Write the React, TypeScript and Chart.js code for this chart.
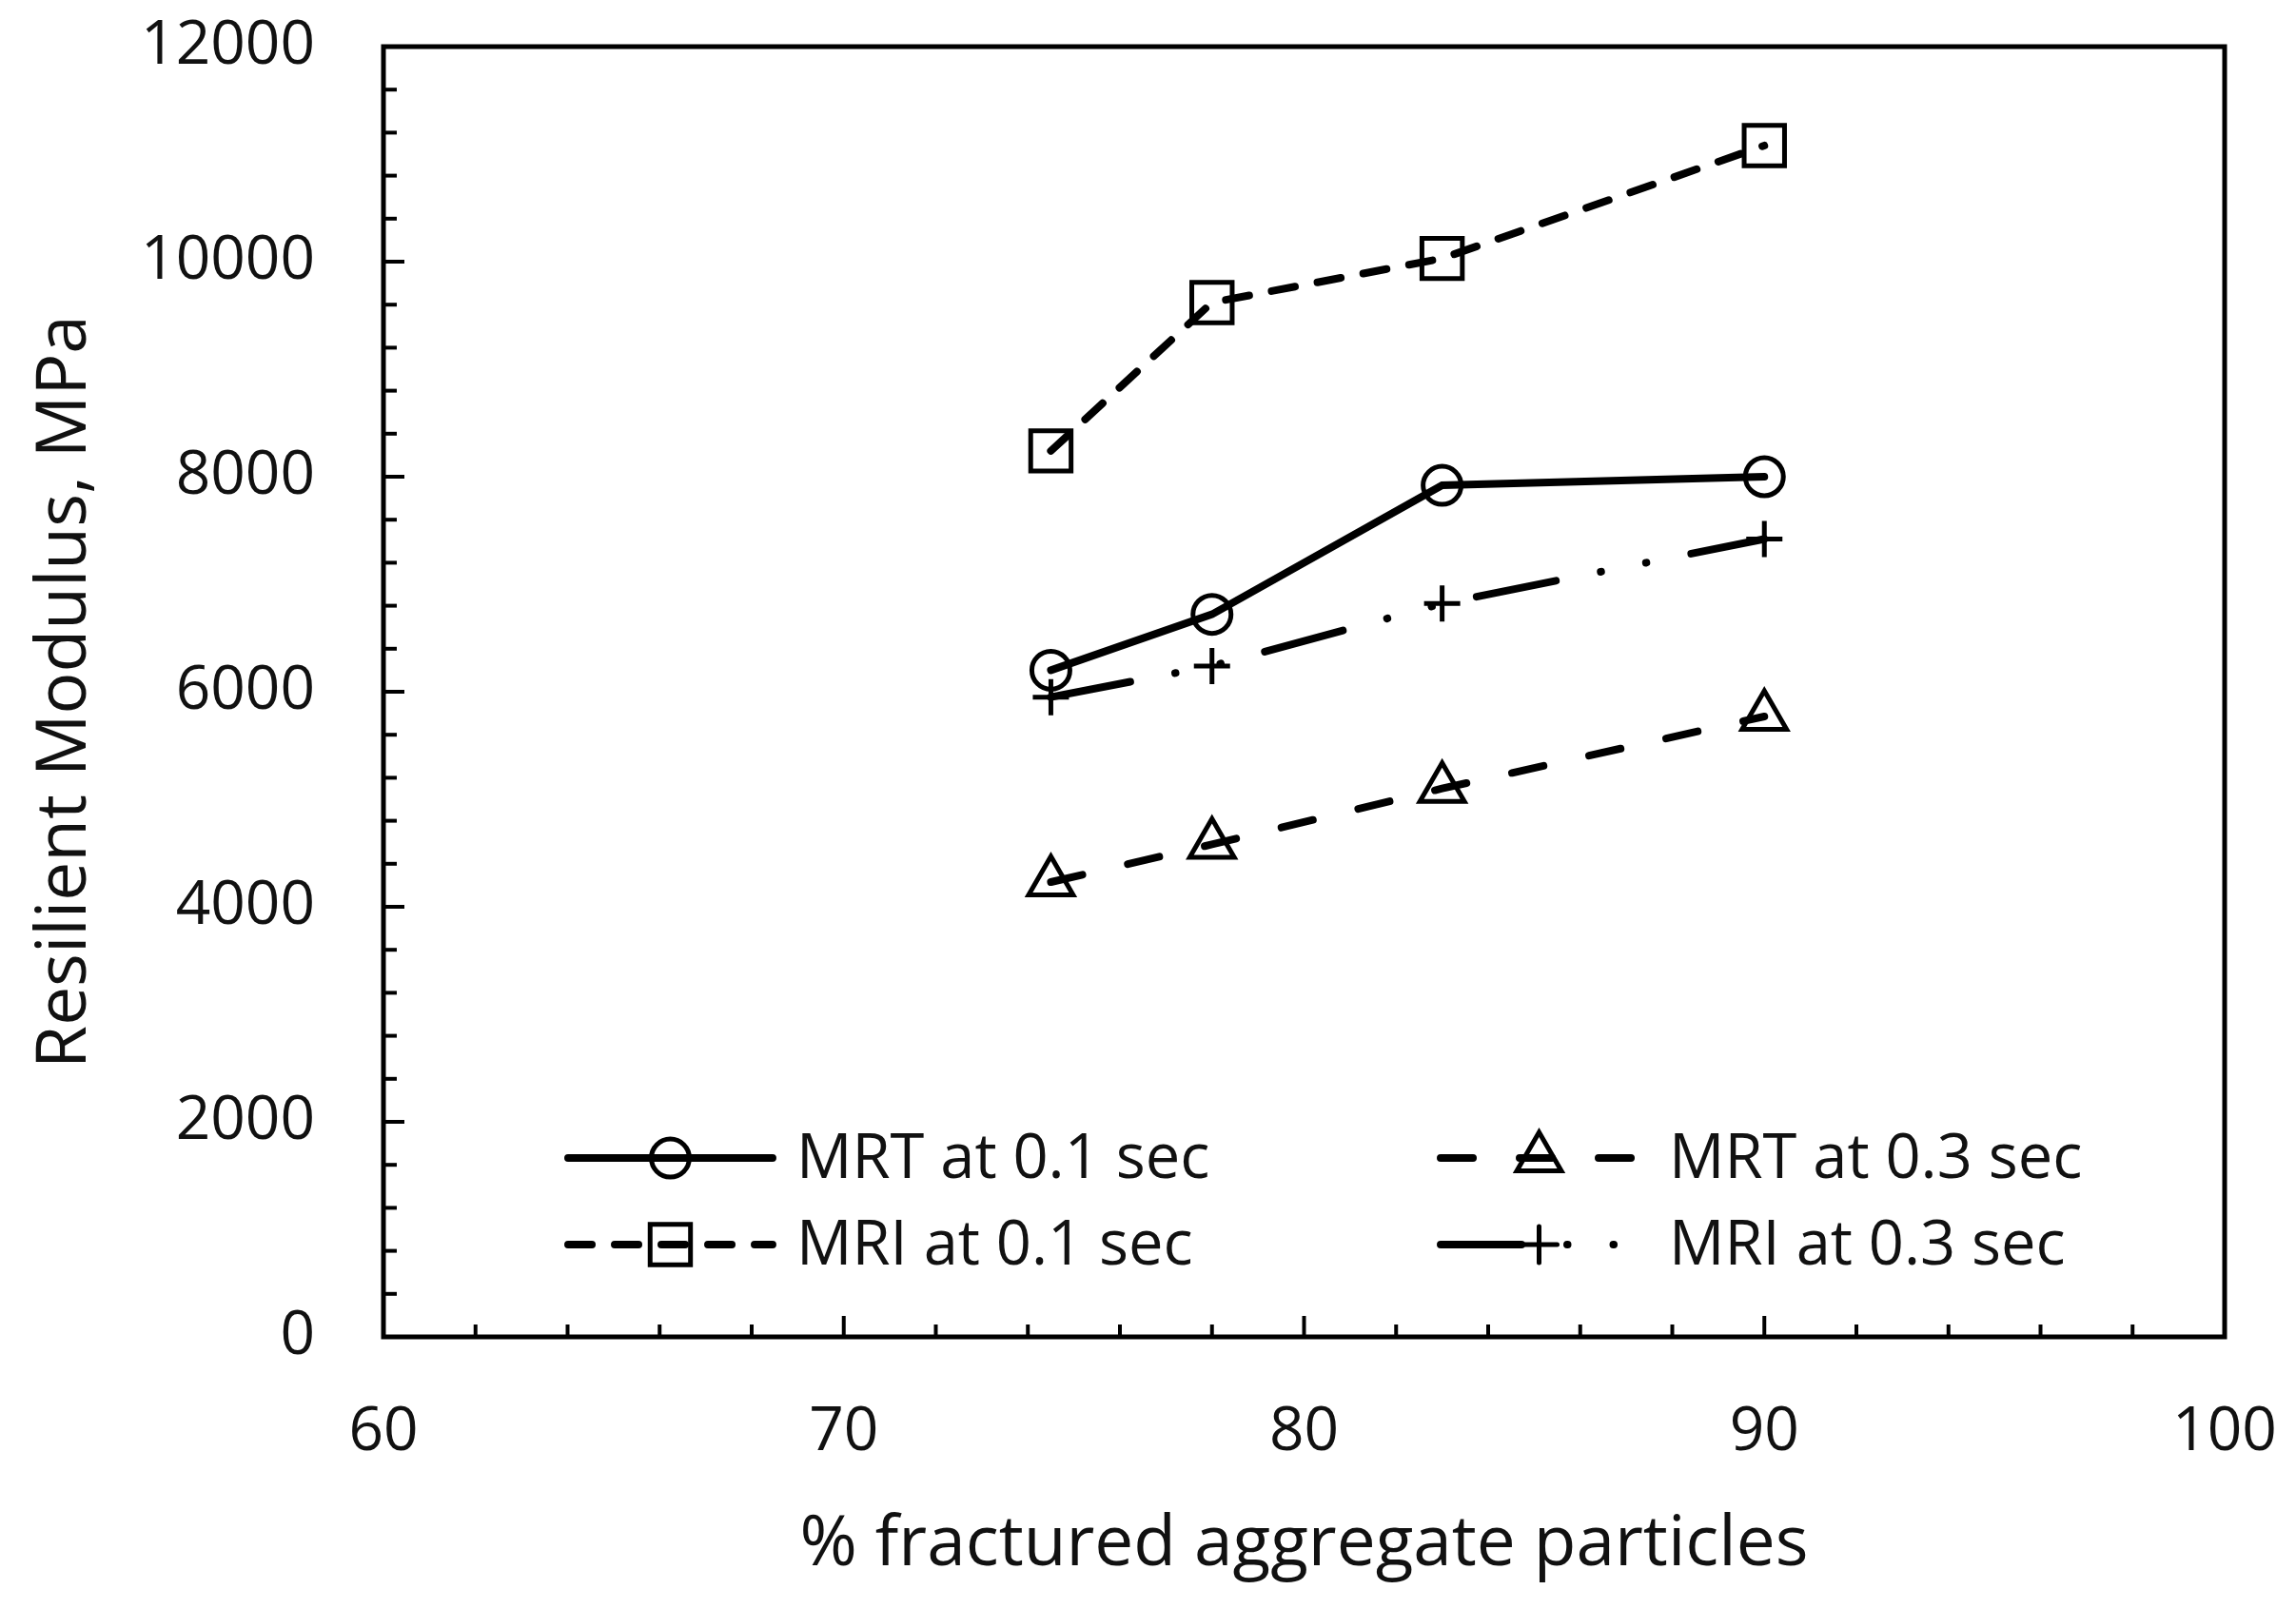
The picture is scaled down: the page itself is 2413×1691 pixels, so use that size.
import React, { useEffect, useRef } from 'react';
import { Chart, registerables } from 'chart.js';
import { drawPoint } from 'chart.js/helpers';

Chart.register(...registerables);

// ---- data ----
const X_VALUES = [74.5, 78, 83, 90];
const MRT_01 = [6200, 6720, 7920, 8000];
const MRT_03 = [4230, 4580, 5100, 5770];
const MRI_01 = [8240, 9620, 10030, 11080];
const MRI_03 = [5950, 6240, 6820, 7420];
const SERIES_LABELS = ['MRT at 0.1 sec', 'MRT at 0.3 sec', 'MRI at 0.1 sec', 'MRI at 0.3 sec'];
const X_TITLE = '% fractured aggregate particles';
const Y_TITLE = 'Resilient Modulus, MPa';
const X_MIN = 60, X_MAX = 100, X_STEP = 10, X_MINOR = 2;
const Y_MIN = 0, Y_MAX = 12000, Y_STEP = 2000, Y_MINOR = 400;

const FONT = "'Open Sans', 'Noto Sans', sans-serif";
const INK = '#111111';

// legend slots: [column, row] per series, and fractions of the plot area
const LEGEND_SLOT = [[0, 0], [1, 0], [0, 1], [1, 1]];
const LEGEND_LINE_START = [0.0982, 0.5721];
const LEGEND_LINE_END = [0.2134, 0.6832];
const LEGEND_TEXT_START = [0.2243, 0.6982];
const LEGEND_ROW_Y = [0.8614, 0.9285];

const framePlugin = {
  id: 'frameTicks',
  beforeDatasetsDraw(chart: any) {
    const { ctx, chartArea: a, scales } = chart;
    ctx.save();
    ctx.strokeStyle = '#000';
    ctx.lineWidth = 5;
    ctx.lineCap = 'butt';
    ctx.strokeRect(a.left, a.top, a.right - a.left, a.bottom - a.top);
    ctx.lineWidth = 4;
    for (let v = Y_MIN; v <= Y_MAX; v += Y_MINOR) {
      const y = scales.y.getPixelForValue(v);
      const len = v % Y_STEP === 0 ? 22 : 14;
      ctx.beginPath();
      ctx.moveTo(a.left, y);
      ctx.lineTo(a.left + len, y);
      ctx.stroke();
    }
    for (let v = X_MIN; v <= X_MAX; v += X_MINOR) {
      const x = scales.x.getPixelForValue(v);
      const len = v % X_STEP === 0 ? 22 : 13;
      ctx.beginPath();
      ctx.moveTo(x, a.bottom);
      ctx.lineTo(x, a.bottom - len);
      ctx.stroke();
    }
    ctx.restore();
  },
};

const legendPlugin = {
  id: 'innerLegend',
  afterDatasetsDraw(chart: any) {
    const { ctx, chartArea: a } = chart;
    const W = a.right - a.left;
    const H = a.bottom - a.top;
    chart.data.datasets.forEach((ds: any, i: number) => {
      const [col, row] = LEGEND_SLOT[i];
      const x0 = a.left + LEGEND_LINE_START[col] * W;
      const x1 = a.left + LEGEND_LINE_END[col] * W;
      const y = a.top + LEGEND_ROW_Y[row] * H;
      ctx.save();
      ctx.strokeStyle = ds.borderColor;
      ctx.lineWidth = ds.borderWidth;
      ctx.lineCap = ds.borderCapStyle || 'butt';
      ctx.setLineDash(ds.borderDash || []);
      ctx.beginPath();
      ctx.moveTo(x0 + ds.borderWidth / 2, y);
      ctx.lineTo(x1 - ds.borderWidth / 2, y);
      ctx.stroke();
      ctx.setLineDash([]);
      ctx.fillStyle = 'rgba(0,0,0,0)';
      ctx.strokeStyle = ds.pointBorderColor;
      ctx.lineWidth = ds.pointBorderWidth;
      drawPoint(ctx, {
        pointStyle: ds.pointStyle,
        rotation: 0,
        radius: ds.pointRadius,
        borderWidth: ds.pointBorderWidth,
      } as any, (x0 + x1) / 2, y);
      ctx.fillStyle = INK;
      ctx.font = `65px ${FONT}`;
      ctx.textAlign = 'left';
      ctx.textBaseline = 'middle';
      ctx.fillText(SERIES_LABELS[i], a.left + LEGEND_TEXT_START[col] * W, y + 2);
      ctx.restore();
    });
  },
};

function pairs(ys: number[]) {
  return X_VALUES.map((x, i) => ({ x, y: ys[i] }));
}

function noPad(s: any) {
  s.paddingTop = 0;
  s.paddingBottom = 0;
  s.paddingLeft = 0;
  s.paddingRight = 0;
}

export default function App() {
  const ref = useRef<HTMLCanvasElement>(null);
  useEffect(() => {
    const common = {
      showLine: true,
      borderColor: '#000',
      borderWidth: 8,
      pointBorderColor: '#000',
      pointBackgroundColor: 'rgba(0,0,0,0)',
      pointBorderWidth: 5,
      borderCapStyle: 'round',
    };
    const chart = new Chart(ref.current as HTMLCanvasElement, {
      type: 'scatter',
      data: {
        datasets: [
          { ...common, label: SERIES_LABELS[0], data: pairs(MRT_01), pointStyle: 'circle', pointRadius: 20, borderDash: [] },
          { ...common, label: SERIES_LABELS[1], data: pairs(MRT_03), pointStyle: 'triangle', pointRadius: 27, borderDash: [34, 49] },
          { ...common, label: SERIES_LABELS[2], data: pairs(MRI_01), pointStyle: 'rect', pointRadius: 30, borderDash: [25, 24] },
          { ...common, label: SERIES_LABELS[3], data: pairs(MRI_03), pointStyle: 'cross', pointRadius: 19, borderDash: [85, 48, 0.5, 48, 0.5, 48] },
        ] as any,
      },
      options: {
        responsive: false,
        devicePixelRatio: 1,
        animation: false,
        layout: { padding: { top: 49, right: 75, left: 0, bottom: 0 } },
        plugins: { legend: { display: false }, tooltip: { enabled: false } },
        scales: {
          x: {
            type: 'linear',
            min: X_MIN,
            max: X_MAX,
            ticks: { stepSize: X_STEP, padding: 62, color: INK, font: { family: FONT, size: 64 }, callback: (v: any) => String(v) },
            grid: { display: false, drawTicks: false },
            border: { display: false },
            title: { display: true, text: X_TITLE, color: INK, font: { family: FONT, size: 73 }, padding: { top: 0, bottom: 23 } },
            afterFit: (s: any) => { s.height = 286; noPad(s); },
          },
          y: {
            type: 'linear',
            min: Y_MIN,
            max: Y_MAX,
            ticks: { stepSize: Y_STEP, padding: 72, color: INK, font: { family: FONT, size: 64 }, callback: (v: any) => String(v) },
            grid: { display: false, drawTicks: false },
            border: { display: false },
            title: { display: true, text: Y_TITLE, color: INK, font: { family: FONT, size: 73 }, padding: { top: 25, bottom: 0 } },
            afterFit: (s: any) => { s.width = 403; noPad(s); },
          },
        },
      } as any,
      plugins: [framePlugin, legendPlugin],
    });
    return () => chart.destroy();
  }, []);
  return (
    <div style={{ position: 'fixed', left: 0, top: 0, width: 2413, height: 1691, background: '#fff' }}>
      <canvas ref={ref} width={2413} height={1691} style={{ display: 'block', width: 2413, height: 1691 }} />
    </div>
  );
}
